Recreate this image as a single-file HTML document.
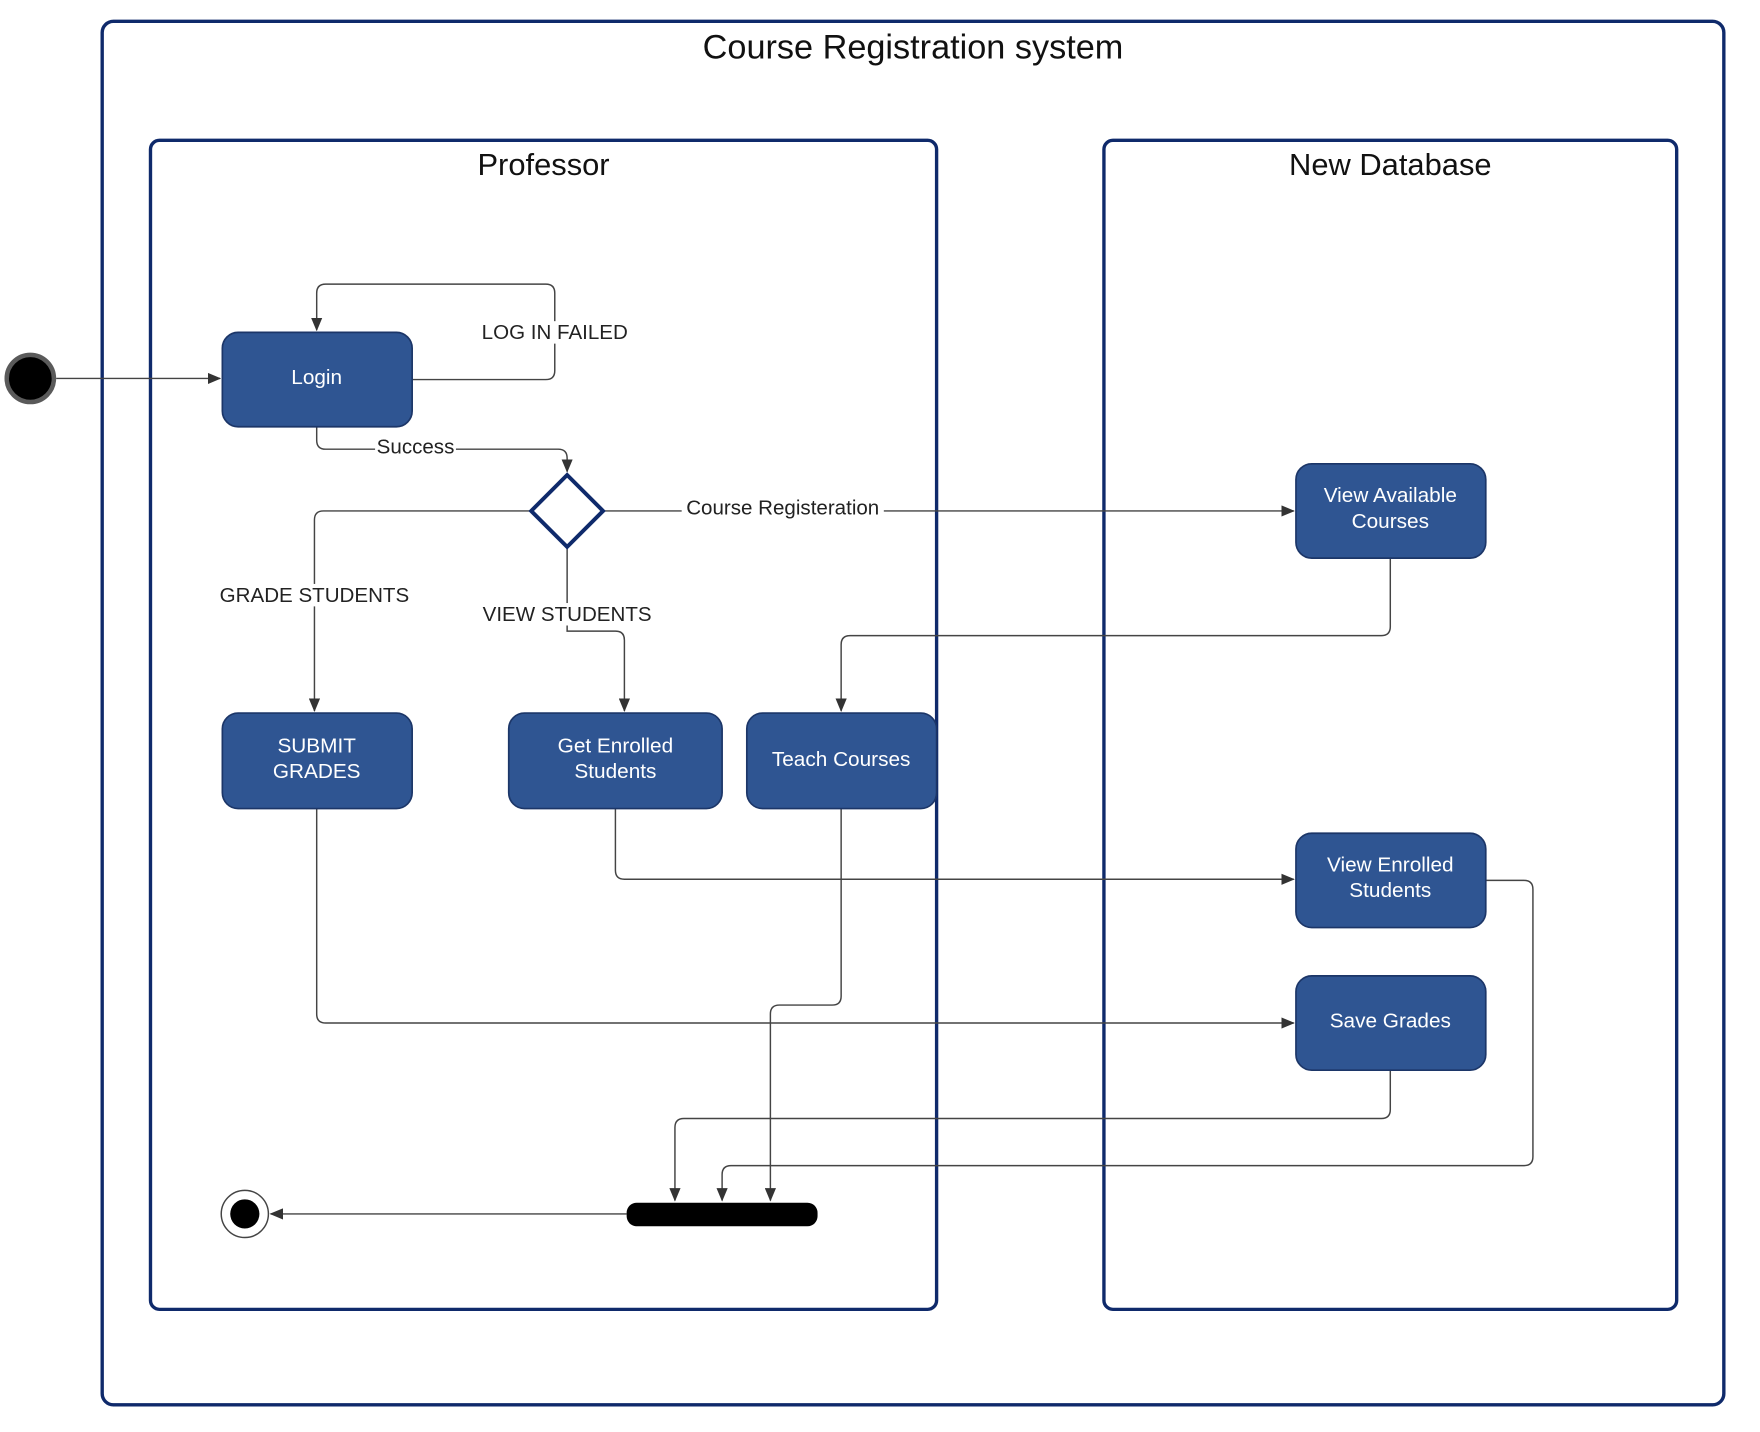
<!DOCTYPE html>
<html><head><meta charset="utf-8"><style>
html,body{margin:0;padding:0;background:#fff;}
svg{display:block;}
text{font-family:"Liberation Sans",sans-serif;}
</style></head><body>
<svg width="1760" height="1432" viewBox="0 0 1567.2 1275.2" preserveAspectRatio="none" xmlns="http://www.w3.org/2000/svg">
<defs>
<marker id="a" markerWidth="12" markerHeight="10" refX="11" refY="5" orient="auto" markerUnits="userSpaceOnUse">
<path d="M0,0 L12,5 L0,10 Z" fill="#333"/>
</marker>
</defs>
<rect width="1567.2" height="1275.2" fill="#fff"/>
<rect x="91" y="19" width="1444" height="1232" rx="10" fill="none" stroke="#0f2a6b" stroke-width="3"/>
<text x="813" y="52" font-size="30.5" text-anchor="middle" fill="#111">Course Registration system</text>
<rect x="134" y="125" width="700" height="1041" rx="8" fill="none" stroke="#0f2a6b" stroke-width="3"/>
<text x="484" y="156" font-size="27.5" text-anchor="middle" fill="#111">Professor</text>
<rect x="983" y="125" width="510" height="1041" rx="8" fill="none" stroke="#0f2a6b" stroke-width="3"/>
<text x="1238" y="156" font-size="27.5" text-anchor="middle" fill="#111">New Database</text>

<g fill="none" stroke="#444" stroke-width="1.3">
<path d="M50,337 H196" marker-end="url(#a)"/>
<path d="M367,338 H486 Q494,338 494,330 V261 Q494,253 486,253 H290 Q282,253 282,261 V294" marker-end="url(#a)"/>
<path d="M282,380 V392 Q282,400 290,400 H497 Q505,400 505,408 V420" marker-end="url(#a)"/>
<path d="M538,455 H1152" marker-end="url(#a)"/>
<path d="M472,455 H288 Q280,455 280,463 V633" marker-end="url(#a)"/>
<path d="M505,487 V562 H548 Q556,562 556,570 V633" marker-end="url(#a)"/>
<path d="M1238,497 V558 Q1238,566 1230,566 H757 Q749,566 749,574 V633" marker-end="url(#a)"/>
<path d="M548,720 V775 Q548,783 556,783 H1152" marker-end="url(#a)"/>
<path d="M749,720 V887 Q749,895 741,895 H694 Q686,895 686,903 V1069" marker-end="url(#a)"/>
<path d="M282,720 V903 Q282,911 290,911 H1152" marker-end="url(#a)"/>
<path d="M1238,953 V988 Q1238,996 1230,996 H609 Q601,996 601,1004 V1069" marker-end="url(#a)"/>
<path d="M1323,784 H1357 Q1365,784 1365,792 V1030 Q1365,1038 1357,1038 H651 Q643,1038 643,1046 V1069" marker-end="url(#a)"/>
<path d="M558,1081 H241" marker-end="url(#a)"/>
</g>

<g font-size="18.3" fill="#222" text-anchor="middle">
<rect x="424" y="286" width="140" height="20" fill="#fff"/>
<text x="494" y="302">LOG IN FAILED</text>
<rect x="334" y="388" width="72" height="20" fill="#fff"/>
<text x="370" y="404">Success</text>
<rect x="607" y="442" width="180" height="20" fill="#fff"/>
<text x="697" y="458">Course Registeration</text>
<rect x="190" y="520" width="180" height="20" fill="#fff"/>
<text x="280" y="536">GRADE STUDENTS</text>
<rect x="425" y="537" width="160" height="20" fill="#fff"/>
<text x="505" y="553">VIEW STUDENTS</text>
</g>

<circle cx="27" cy="337" r="21" fill="#000" stroke="#5a5a5a" stroke-width="4"/>
<circle cx="218" cy="1081" r="21" fill="#fff" stroke="#444" stroke-width="1.3"/>
<circle cx="218" cy="1081" r="13" fill="#000"/>
<rect x="558" y="1071" width="170" height="21" rx="9" fill="#000"/>
<path d="M505,423 L537,455 L505,487 L473,455 Z" fill="#fff" stroke="#0f2a6b" stroke-width="3.5"/>

<g fill="#2f5592" stroke="#1c3668" stroke-width="1.5">
<rect x="198" y="296" width="169" height="84" rx="14"/>
<rect x="198" y="635" width="169" height="85" rx="14"/>
<rect x="453" y="635" width="190" height="85" rx="14"/>
<rect x="665" y="635" width="169" height="85" rx="14"/>
<rect x="1154" y="413" width="169" height="84" rx="14"/>
<rect x="1154" y="742" width="169" height="84" rx="14"/>
<rect x="1154" y="869" width="169" height="84" rx="14"/>
</g>
<g font-size="18.5" fill="#fff" text-anchor="middle">
<text x="282" y="342">Login</text>
<text x="282" y="670">SUBMIT</text><text x="282" y="693">GRADES</text>
<text x="548" y="670">Get Enrolled</text><text x="548" y="693">Students</text>
<text x="749" y="682">Teach Courses</text>
<text x="1238" y="447">View Available</text><text x="1238" y="470">Courses</text>
<text x="1238" y="776">View Enrolled</text><text x="1238" y="799">Students</text>
<text x="1238" y="915">Save Grades</text>
</g>
</svg>
</body></html>
